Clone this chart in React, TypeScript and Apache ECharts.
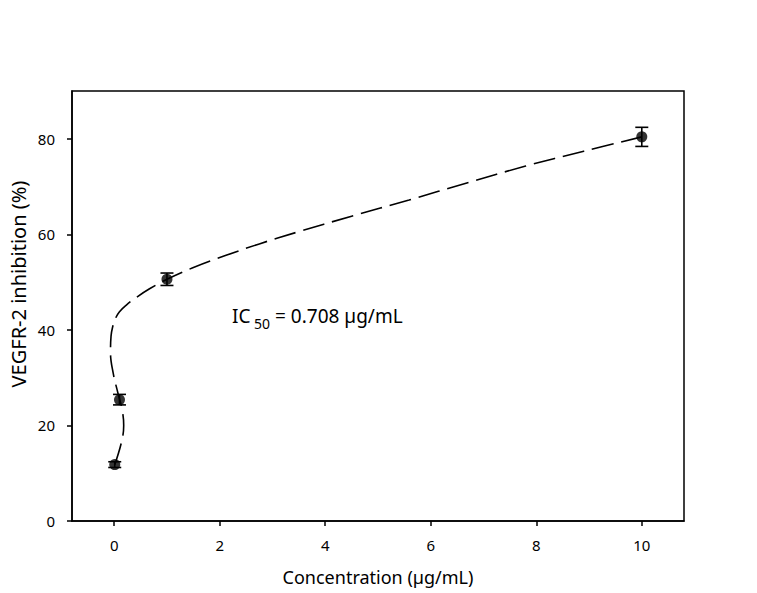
import React, { useEffect, useRef } from "react";
import * as echarts from "echarts";

const concentrations = [0.01, 0.1, 1, 10];
const inhibition = [11.8, 25.4, 50.6, 80.4];
const errors = [0.6, 1.1, 1.3, 2.0];
const fitCurve: [number, number][] = [
  [0.01, 11.8],
  [0.14, 16.6],
  [0.18, 20.0],
  [0.15, 23.3],
  [0.07, 26.8],
  [-0.02, 31.0],
  [-0.07, 35.2],
  [-0.06, 38.7],
  [-0.03, 40.6],
  [0.02, 42.3],
  [0.1, 43.8],
  [0.23, 45.2],
  [0.42, 46.8],
  [0.67, 48.6],
  [1.0, 50.6],
  [1.49, 53.0],
  [2.12, 55.6],
  [2.75, 58.0],
  [3.45, 60.4],
  [4.5, 63.8],
  [5.59, 67.2],
  [6.7, 70.8],
  [7.8, 74.3],
  [8.9, 77.4],
  [10, 80.4],
];
const xTicks = [0, 2, 4, 6, 8, 10];
const yTicks = [0, 20, 40, 60, 80];

const FONT = "Noto Sans";

export default function App() {
  const ref = useRef<HTMLDivElement>(null);
  useEffect(() => {
    if (!ref.current) return;
    const chart = echarts.init(ref.current, undefined, { renderer: "svg" });
    const points = concentrations.map((x, i) => [x, inhibition[i]]);
    const errData = concentrations.map((x, i) => [x, inhibition[i] - errors[i], inhibition[i] + errors[i]]);
    chart.setOption({
      animation: false,
      backgroundColor: "#fff",
      grid: {
        left: 72,
        top: 91,
        right: 73,
        bottom: 72,
        show: true,
        borderColor: "#000",
        borderWidth: 1.5,
        containLabel: false,
      },
      xAxis: {
        type: "value",
        min: -0.8,
        max: 10.8,
        name: "Concentration (\u00b5g/mL)",
        nameLocation: "middle",
        nameGap: 47,
        nameTextStyle: { fontFamily: FONT, fontSize: 18, color: "#000" },
        axisLine: { show: true, onZero: false, lineStyle: { color: "#000", width: 1.5 } },
        axisTick: { show: true, inside: false, length: 5, lineStyle: { color: "#000", width: 1.5 }, customValues: xTicks },
        axisLabel: { fontFamily: FONT, fontSize: 15, color: "#000", margin: 16, customValues: xTicks },
        splitLine: { show: false },
      },
      yAxis: {
        type: "value",
        min: 0,
        max: 90,
        axisLine: { show: true, onZero: false, lineStyle: { color: "#000", width: 1.5 } },
        axisTick: { show: true, inside: false, length: 5, lineStyle: { color: "#000", width: 1.5 }, customValues: yTicks },
        axisLabel: { fontFamily: FONT, fontSize: 15, color: "#000", margin: 17, customValues: yTicks },
        splitLine: { show: false },
      },
      graphic: [
        {
          type: "text",
          x: 18,
          y: 284,
          rotation: Math.PI / 2,
          style: {
            text: "VEGFR-2 inhibition (%)",
            fontFamily: FONT,
            fontSize: 20,
            fill: "#000",
            align: "center",
            verticalAlign: "middle",
          },
        },
        {
          type: "text",
          x: 232,
          y: 316,
          style: {
            text: "{a|IC}{b| 50}{a| = 0.708 \u00b5g/mL}",
            rich: {
              a: { fontFamily: FONT, fontSize: 19, fill: "#000", verticalAlign: "middle" },
              b: { fontFamily: FONT, fontSize: 14, fill: "#000", padding: [14, 0, 0, 0] },
            },
            verticalAlign: "middle",
          },
        },
      ],
      series: [
        {
          type: "line",
          data: fitCurve,
          smooth: 0.4,
          symbol: "none",
          lineStyle: { color: "#000", width: 1.6, type: [22, 8] },
          z: 1,
        },
        {
          type: "custom",
          data: errData,
          renderItem: (params: any, api: any) => {
            const x = api.value(0);
            const lo = api.coord([x, api.value(1)]);
            const hi = api.coord([x, api.value(2)]);
            const hw = 6.5;
            const style = { stroke: "#000", lineWidth: 1.6 };
            return {
              type: "group",
              children: [
                { type: "line", shape: { x1: lo[0], y1: lo[1], x2: hi[0], y2: hi[1] }, style },
                { type: "line", shape: { x1: lo[0] - hw, y1: lo[1], x2: lo[0] + hw, y2: lo[1] }, style },
                { type: "line", shape: { x1: hi[0] - hw, y1: hi[1], x2: hi[0] + hw, y2: hi[1] }, style },
              ],
            };
          },
          z: 2,
        },
        {
          type: "scatter",
          data: points,
          symbol: "circle",
          symbolSize: 11,
          itemStyle: { color: "#000" },
          z: 3,
        },
      ],
    });
    return () => chart.dispose();
  }, []);
  return <div ref={ref} style={{ width: 757, height: 593, position: "absolute", left: 0, top: 0 }} />;
}
